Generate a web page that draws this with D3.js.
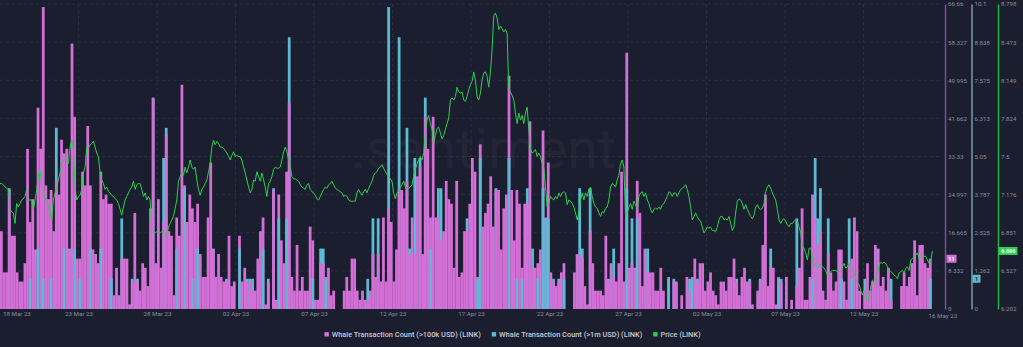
<!DOCTYPE html>
<html><head><meta charset="utf-8">
<script src="https://cdn.jsdelivr.net/npm/d3@7"></script>
<style>
html,body{margin:0;padding:0;background:#1b1e2e;}
svg{display:block;}
</style></head>
<body><svg id="c" width="1023" height="347"></svg>
<script>
// ---------------- DATA ----------------
const startDate = "2023-03-18T00:00:00Z";
const endDate = "2023-05-17T00:00:00Z";
const barStepHours = 4;        // whale counts are 4-hour buckets
const priceStepMinutes = 153;  // price samples

// Whale Transaction Count (>100k USD) (LINK)
const whale100k = [
17,8,8,26,16,16,8,6,6,10, 35,19,24,13,44,35,66,27,24,26,
17,28,25,37,34,35,13,58,42,11, 11,30,27,40,27,13,12,10,30,24,
25,23,23,3,9,3,11,11,11,1, 6,21,6,4,10,9,5,22,46,10,
24,9,19,38,17,16,3,20,16,49, 27,19,25,22,19,23,12,7,7,20,
32,13,7,12,7,6,6,16,5,6, 0,16,6,9,6,
6,4,4,11,17, 20,1,6,0,26, 2,25,15,10,30, 45,7,4,14,4,
7,4,4,18,15, 2,2,10,10,7, 9,3,4,0,0, 0,4,7,4,11,
11,4,2,4,2, 2,4,12,7,12, 6,20,6,22,19, 6,13,26,26,22,
28,12,20,12,29, 31,12,42,35,20, 42,20,20,15,17, 28,24,23,9,28,
7,8,17,17,23, 33,30,7,36,18, 21,23,29,18,26, 26,
13,22,25,51,26,15,26,23,9,23, 23,41,9,9,10,13,39,20,32,8,
6,5,6,8,10,0,0,0,8,12, 12,11,5,1,17,10,4,4,4,3,
16,6,10,7,6,10,30,6,56,9, 10,9,28,21,5,13,8,8,8,4,
4,9,4,0,7,0,6,6,0,3, 0,7,4,7,11,6,10,10,4,6,
8,4,3,1,
6,6,4,7,7,11,6,3,7,9, 6,6,1,0,4,6,14,25,5,9,
9,1,7,6,0,7,0,2,0,5, 9,22,2,2,7,25,20,14,17,4,
2,12,8,4,6,13,13,6,2,10, 11,20,17,4,0,4,10,4,6,14,
13,5,7,4,9,2,0,0,0,5, 8,5,7,10,15,3,14,14,10,9,11
];

// Whale Transaction Count (>1m USD) (LINK)
const whale1m = [
0,0,0,4,0,0,0,0,0,0, 0,1,0,0,2,0,1,0,0,1,
0,6,0,0,2,0,2,0,2,0, 1,0,0,0,2,0,0,0,2,0,
0,0,1,0,0,0,3,0,0,0, 1,0,1,0,0,0,0,0,7,0,
0,0,5,6,0,0,0,2,0,0, 4,0,0,1,0,2,0,0,0,0,
0,2,0,0,0,0,1,0,0,0, 0,2,0,0,1,
1,1,0,0,0, 2,0,1,0,4, 0,3,0,0,3, 9,0,0,0,0,
0,0,0,0,1, 0,0,2,2,1, 0,0,0,0,0, 0,0,0,0,0,
0,0,0,0,0, 1,0,3,0,3, 0,0,0,10,0, 0,0,9,0,0,
6,2,0,5,0, 5,0,7,0,2, 0,0,4,4,0, 0,0,0,0,0,
0,0,0,3,0, 0,0,1,5,0, 0,0,0,0,4, 0,
0,0,0,5,0,0,1,0,1,0, 4,0,2,0,1,0,4,3,3,0,
1,0,1,0,1,0,0,0,0,0, 4,2,0,0,4,0,0,0,0,0,
0,1,0,2,0,0,0,0,4,0, 3,0,3,0,0,2,2,0,0,0,
0,0,0,0,1,0,1,0,0,0, 0,0,1,1,0,1,0,0,0,0,
0,0,0,0,
0,0,0,0,0,0,1,0,0,0, 0,1,0,0,0,1,0,0,0,2,
0,0,1,1,0,0,0,0,0,3, 0,0,0,0,0,1,5,3,4,0,
0,3,0,0,0,0,1,0,0,3, 1,0,0,0,0,1,0,0,0,0,
2,0,0,0,0,1,0,0,0,0, 0,0,0,0,0,0,0,0,0,0,1
];

// Price (LINK), USD
const price = [
7.27,7.27,7.26,7.24,7.23,7.22,7.05,7.03,7.02,6.93,
7.10,7.07,7.10,7.13,7.14,7.16,7.22,7.13,7.13,7.13,
7.05,7.13,7.22,7.33,7.39,7.24,7.22,7.16,7.13,7.07,
7.02,6.96,7.13,7.19,7.24,7.30,7.36,7.44,7.47,7.48,
7.47,7.44,7.58,7.64,7.56,7.24,7.13,7.16,7.17,7.22,
7.36,7.41,7.58,7.57,7.60,7.61,7.63,7.58,7.53,7.50,
7.36,7.30,7.27,7.22,7.24,7.20,7.19,7.17,7.16,7.14,
7.13,7.10,7.05,7.00,7.07,7.13,7.16,7.19,7.22,7.24,
7.29,7.22,7.26,7.27,7.27,7.22,7.16,7.19,7.13,7.16,
7.13,6.85,6.85,6.85,6.86,6.85,6.85,6.86,6.87,6.85,
6.82,6.90,6.93,6.96,6.99,7.06,7.13,7.29,7.33,7.36,
7.34,7.41,7.36,7.41,7.47,7.41,7.39,7.41,7.30,7.22,
7.17,7.22,7.24,7.27,7.30,7.37,7.44,7.58,7.64,7.60,
7.63,7.61,7.58,7.58,7.57,7.55,7.53,7.50,7.47,7.51,
7.54,7.50,7.51,7.50,7.50,7.47,7.41,7.36,7.30,7.24,
7.19,7.22,7.30,7.29,7.37,7.33,7.29,7.36,7.30,7.24,
7.16,7.27,7.29,7.33,7.39,7.41,7.40,7.40,7.41,7.47,
7.54,7.58,7.54,7.47,7.41,7.33,7.31,7.31,7.30,7.29,
7.26,7.24,7.23,7.22,7.26,7.27,7.22,7.20,7.19,7.17,
7.14,7.13,7.16,7.19,7.22,7.24,7.23,7.26,7.27,7.29,
7.26,7.23,7.22,7.21,7.20,7.19,7.16,7.17,7.16,7.13,
7.12,7.12,7.12,7.12,7.19,7.22,7.19,7.17,7.20,7.22,
7.19,7.23,7.26,7.29,7.34,7.36,7.37,7.40,7.41,7.43,
7.40,7.37,7.35,7.33,7.31,7.29,7.19,7.14,7.19,7.20,
7.24,7.26,7.29,7.24,7.22,7.23,7.24,7.26,7.33,7.39,
7.44,7.47,7.50,7.47,7.53,7.70,7.81,7.85,7.78,7.73,
7.61,7.68,7.74,7.75,7.70,7.65,7.68,7.73,7.78,7.83,
7.98,8.00,7.98,8.01,8.09,8.05,8.04,8.05,7.98,7.97,
8.01,8.07,8.11,8.14,8.22,8.15,8.01,7.98,8.04,8.15,
8.21,8.22,8.18,8.09,8.22,8.41,8.70,8.72,8.68,8.58,
8.61,8.59,8.56,8.58,8.55,8.07,8.05,8.02,7.98,7.87,
7.78,7.87,7.81,7.85,7.78,7.87,7.92,7.73,7.56,7.53,
7.54,7.56,7.50,7.53,7.50,7.44,7.41,7.24,7.07,7.10,
7.16,7.14,7.13,7.16,7.14,7.19,7.16,7.19,7.20,7.19,
7.09,7.13,7.12,7.10,7.07,7.02,6.96,7.02,7.13,7.19,
7.13,7.19,7.16,7.22,7.24,7.16,7.10,7.07,7.06,7.02,
6.99,7.03,7.02,7.06,7.07,7.13,7.24,7.27,7.26,7.24,
7.30,7.34,7.44,7.47,7.41,6.99,7.02,7.07,7.10,7.05,
7.12,7.09,7.05,7.16,7.19,7.20,7.16,7.19,7.13,7.10,
7.05,7.02,7.05,7.06,7.05,7.07,7.05,7.09,7.10,7.13,
7.16,7.20,7.19,7.16,7.19,7.19,7.16,7.19,7.22,7.23,
7.24,7.26,7.22,7.16,7.07,6.96,6.99,7.02,6.99,6.96,
6.95,6.90,6.85,6.87,6.90,6.89,6.90,6.87,6.87,6.86,
6.90,6.96,
6.99,6.99,6.96,6.97,6.96,6.99,6.93,6.87,6.90,7.02,
7.12,7.14,7.13,7.10,7.05,7.09,7.05,7.02,6.99,6.97,
7.00,7.07,7.09,7.06,7.05,7.06,7.10,7.20,7.24,7.26,
7.23,7.19,7.16,7.13,7.05,6.96,6.93,6.96,6.97,6.95,
6.92,6.90,6.93,6.93,6.95,6.96,6.95,6.90,6.85,6.73,
6.72,6.68,6.62,6.72,6.72,6.65,6.56,6.59,6.58,6.56,
6.58,6.56,6.55,6.53,6.49,6.51,6.52,6.53,6.53,6.53,
6.52,6.53,6.51,6.56,6.59,6.55,6.56,6.59,6.56,6.52,
6.51,6.46,6.43,6.41,6.36,6.32,6.36,6.34,6.27,6.31,
6.39,6.45,6.42,6.46,6.51,6.58,6.60,6.59,6.60,6.59,
6.56,6.53,6.52,6.51,6.49,6.48,6.46,6.51,6.52,6.53,
6.51,6.55,6.56,6.53,6.62,6.63,6.65,6.66,6.68,6.63,
6.65,6.66,6.65,6.65,6.62,6.59,6.62,6.696
];

// axis tick labels
const ticks100k = ["0","8.332","16.665","24.997","33.33","41.662","49.995","58.327","66.66"];
const ticks1m   = ["0","1.262","2.525","3.787","5.05","6.313","7.575","8.838","10.1"];
const ticksPrice= ["6.202","6.527","6.851","7.176","7.5","7.824","8.149","8.473","8.798"];
const dateTicks = ["2023-03-23","2023-03-28","2023-04-02","2023-04-07","2023-04-12","2023-04-17","2023-04-22","2023-04-27","2023-05-02","2023-05-07","2023-05-12"];
const firstDateLabel = "18 Mar 23";
const lastDateLabel = "16 May 23";
const seriesNames = ["Whale Transaction Count (>100k USD) (LINK)","Whale Transaction Count (>1m USD) (LINK)","Price (LINK)"];
const seriesColors = ["#d46fd7","#5cbad4","#2bcf4c"];
const watermark = ".santiment.";

// ---------------- CHART ----------------
(function () {
const W = 1023, H = 347;
const pLeft = 0, pRight = 942, pTop = 4, pBottom = 309;
const bg = "#1b1e2e";
const svg = d3.select("#c");
svg.append("rect").attr("width", W).attr("height", H).attr("fill", bg);

const t0 = new Date(startDate), t1 = new Date(endDate);
const x = d3.scaleUtc().domain([t0, t1]).range([pLeft, pRight]);
const yA = d3.scaleLinear().domain([0, +ticks100k[ticks100k.length-1]]).range([pBottom, pTop]);
const yB = d3.scaleLinear().domain([0, +ticks1m[ticks1m.length-1]]).range([pBottom, pTop]);
const yP = d3.scaleLinear().domain([+ticksPrice[0], +ticksPrice[ticksPrice.length-1]]).range([pBottom, pTop]);

// grid
const grid = svg.append("g");
grid.selectAll("line.h").data(ticks100k.slice(1)).join("line")
  .attr("x1", pLeft).attr("x2", pRight)
  .attr("y1", d => yA(+d)).attr("y2", d => yA(+d))
  .attr("stroke", "#2a2e41").attr("stroke-width", 1).attr("stroke-dasharray", "3,3");
grid.selectAll("line.v").data(dateTicks).join("line")
  .attr("x1", d => x(new Date(d+"T00:00:00Z"))).attr("x2", d => x(new Date(d+"T00:00:00Z")))
  .attr("y1", pTop).attr("y2", pBottom)
  .attr("stroke", "#2a2e41").attr("stroke-width", 1).attr("stroke-dasharray", "3,3");

// watermark
svg.append("text").attr("x", 491).attr("y", 168).attr("text-anchor", "middle")
  .style("font-family", "Roboto").style("font-size", "56px").style("font-weight", 400)
  .attr("fill", "#ffffff").attr("fill-opacity", 0.035).text(watermark);

// bars: per time bucket, the taller bar is painted first, the shorter one over it
const barTime = i => d3.utcHour.offset(t0, i * barStepHours);
const bw = i => x(barTime(i + 1)) - x(barTime(i));
const slots = whale100k.map((p, i) => ({ i, p, c: whale1m[i] }));
svg.append("g").selectAll("g").data(slots).join("g").each(function (d) {
  const g = d3.select(this);
  const parts = [
    { y: yA(d.p), color: seriesColors[0] },
    { y: yB(d.c), color: seriesColors[1] }
  ].sort((a, b) => a.y - b.y);
  parts.forEach(pt => {
    if (pBottom - pt.y <= 0) return;
    g.append("rect").attr("x", x(barTime(d.i))).attr("width", bw(d.i) + 0.15)
      .attr("y", pt.y).attr("height", pBottom - pt.y).attr("fill", pt.color);
  });
});

// price line
const line = d3.line()
  .x((d, i) => x(d3.utcMinute.offset(t0, i * priceStepMinutes)))
  .y(d => yP(d));
svg.append("path").datum(price).attr("d", line)
  .attr("fill", "none").attr("stroke", seriesColors[2]).attr("stroke-width", 1).attr("stroke-linejoin", "round");

// right axes
const tickColor = "#8a8e9e";
function rightAxis(scale, labels, xPos, color) {
  const g = svg.append("g").attr("transform", `translate(${xPos},0)`);
  g.call(d3.axisRight(scale).tickValues(labels.map(Number)).tickFormat((d, i) => labels[i])
    .tickSize(0).tickPadding(3));
  g.select(".domain").attr("stroke", color).attr("stroke-width", 1.4);
  g.selectAll("text").attr("fill", tickColor).style("font-family", "Roboto").style("font-size", "6.2px");
  return g;
}
rightAxis(yA, ticks100k, 945, "#8b4c96");
rightAxis(yB, ticks1m, 971.5, "#7fa4b2");
rightAxis(yP, ticksPrice, 998, "#28b948");

// x axis
const xg = svg.append("g").attr("transform", `translate(0,${pBottom})`);
xg.call(d3.axisBottom(x).tickValues(dateTicks.map(d => new Date(d+"T00:00:00Z")))
  .tickFormat(d3.utcFormat("%d %b %y")).tickSize(0).tickPadding(3));
xg.select(".domain").remove();
xg.selectAll("text").attr("fill", tickColor).style("font-family", "Roboto").style("font-size", "6.2px");
svg.append("text").attr("x", 3).attr("y", pBottom + 3).attr("dy", "0.71em")
  .attr("fill", tickColor).style("font-family", "Roboto").style("font-size", "6.2px").text(firstDateLabel);
svg.append("text").attr("x", x(barTime(whale100k.length)) - 3).attr("y", pBottom + 5).attr("dy", "0.71em")
  .attr("fill", tickColor).style("font-family", "Roboto").style("font-size", "6.2px").text(lastDateLabel);

// last value badges
function badge(xPos, yPos, w, color, txt, txtColor) {
  svg.append("rect").attr("x", xPos).attr("y", yPos - 4).attr("width", w).attr("height", 8)
    .attr("fill", color).attr("rx", 0.5);
  svg.append("text").attr("x", xPos + w / 2).attr("y", yPos).attr("dy", "0.35em")
    .attr("text-anchor", "middle").attr("fill", txtColor)
    .style("font-family", "Roboto").style("font-size", "5.5px").style("font-weight", 700).text(txt);
}
const lastA = whale100k[whale100k.length-1], lastB = whale1m[whale1m.length-1], lastP = price[price.length-1];
badge(946.5, yA(lastA), 10, seriesColors[0], String(lastA), "#ffffff");
badge(972.5, yB(lastB), 8, seriesColors[1], String(lastB), "#1b1e2e");
badge(999, yP(lastP), 18.5, "#2fcf4f", d3.format(".3f")(lastP), "#ffffff");

// legend
const lg = svg.append("g");
let cx = 0;
seriesNames.forEach((name, i) => {
  const g = lg.append("g").attr("transform", `translate(${cx},0)`);
  g.append("rect").attr("x", 0).attr("y", -2.2).attr("width", 4.4).attr("height", 4.4).attr("fill", seriesColors[i]);
  const t = g.append("text").attr("x", 7.3).attr("y", 0).attr("dy", "0.35em")
    .attr("fill", "#c7cad4").style("font-family", "Roboto").style("font-size", "7.4px").style("font-weight", 500)
    .text(name);
  const len = t.node().getComputedTextLength();
  cx += 7.3 + len + 11;
});
const legW = cx - 11;
lg.attr("transform", `translate(${(W - legW) / 2 + 1},334.3)`);
})();
</script>
</body></html>
